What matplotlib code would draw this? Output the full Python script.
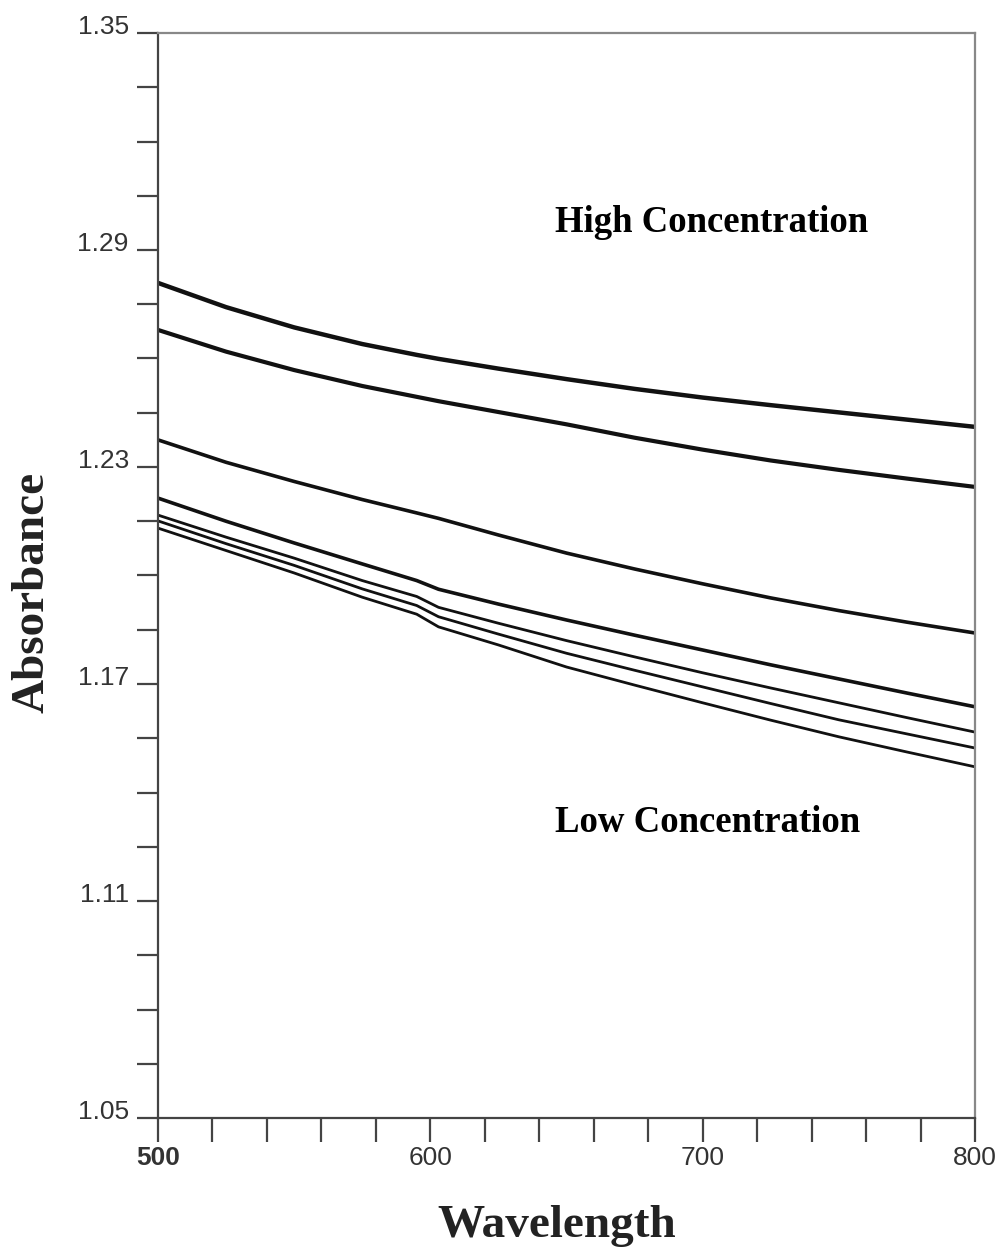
import matplotlib
matplotlib.use("Agg")
import matplotlib.pyplot as plt
from matplotlib.ticker import MultipleLocator, FixedLocator
from matplotlib.transforms import ScaledTranslation

# ---- data ----
wavelength = [500, 525, 550, 575, 595, 603, 625, 650, 675, 700, 725, 750, 775, 800]
conc_1 = [1.2809, 1.2742, 1.2686, 1.2640, 1.2610, 1.2599, 1.2572, 1.2543, 1.2516, 1.2492, 1.2471, 1.2451, 1.2431, 1.2411]
conc_2 = [1.2679, 1.2619, 1.2568, 1.2524, 1.2494, 1.2482, 1.2452, 1.2418, 1.2381, 1.2348, 1.2318, 1.2292, 1.2268, 1.2245]
conc_3 = [1.2375, 1.2313, 1.2260, 1.2210, 1.2173, 1.2158, 1.2112, 1.2062, 1.2018, 1.1977, 1.1938, 1.1903, 1.1871, 1.1841]
conc_4 = [1.2214, 1.2150, 1.2090, 1.2032, 1.1986, 1.1962, 1.1921, 1.1877, 1.1835, 1.1794, 1.1753, 1.1714, 1.1675, 1.1637]
conc_5 = [1.2167, 1.2106, 1.2048, 1.1986, 1.1942, 1.1912, 1.1868, 1.1820, 1.1775, 1.1731, 1.1689, 1.1648, 1.1607, 1.1567]
conc_6 = [1.2151, 1.2088, 1.2028, 1.1963, 1.1917, 1.1886, 1.1838, 1.1785, 1.1738, 1.1692, 1.1646, 1.1601, 1.1562, 1.1523]
conc_7 = [1.2131, 1.2069, 1.2007, 1.1940, 1.1893, 1.1858, 1.1808, 1.1747, 1.1697, 1.1648, 1.1600, 1.1554, 1.1512, 1.1471]
series = [conc_1, conc_2, conc_3, conc_4, conc_5, conc_6, conc_7]
widths = [3.2, 3.0, 2.6, 2.6, 2.0, 2.0, 2.0]

y_ticks = [1.05, 1.11, 1.17, 1.23, 1.29, 1.35]
y_tick_labels = ["1.05", "1.11", "1.17", "1.23", "1.29", "1.35"]
x_ticks = [500, 600, 700, 800]
x_tick_labels = ["500", "600", "700", "800"]

fig = plt.figure(figsize=(10.05, 12.56), dpi=100)
ax = fig.add_axes([158/1005, 1 - 1118/1256, (975-158)/1005, (1118-33)/1256])

for s, lw in zip(series, widths):
    ax.plot(wavelength, s, color="#111111", lw=lw, solid_capstyle="butt",
            solid_joinstyle="round")

ax.set_xlim(500, 800)
ax.set_ylim(1.05, 1.35)

ax.yaxis.set_major_locator(FixedLocator(y_ticks))
ax.yaxis.set_minor_locator(MultipleLocator(0.015))
ax.set_yticklabels(y_tick_labels)
ax.xaxis.set_major_locator(FixedLocator(x_ticks))
ax.xaxis.set_minor_locator(MultipleLocator(20))
ax.set_xticklabels(x_tick_labels)

for lab in ax.get_yticklabels() + ax.get_xticklabels():
    lab.set_fontfamily("Liberation Sans")
    lab.set_fontsize(19)
    lab.set_color("#333333")

ax.tick_params(axis="y", which="both", direction="out", length=15, width=1.6,
               color="#444444", pad=6)
ax.tick_params(axis="x", which="both", direction="out", length=17, width=1.6,
               color="#444444", pad=3)

offset = ScaledTranslation(0, 6/72, fig.dpi_scale_trans)
for lab in ax.get_yticklabels():
    lab.set_transform(lab.get_transform() + offset)
ax.get_xticklabels()[0].set_fontweight("bold")

for side in ["left", "bottom"]:
    ax.spines[side].set_color("#444444")
    ax.spines[side].set_linewidth(1.6)
for side in ["top", "right"]:
    ax.spines[side].set_color("#888888")
    ax.spines[side].set_linewidth(1.6)

fig.text(33/1005, 1 - 592/1256, "Absorbance", rotation=90, ha="center", va="center",
         family="Liberation Serif", fontweight="bold", fontsize=34, color="#222222")
fig.text(557/1005, 1 - 1226/1256, "Wavelength", ha="center", va="center",
         family="Liberation Serif", fontweight="bold", fontsize=34, color="#222222")

fig.text(555/1005, 1 - 232/1256, "High Concentration", ha="left", va="baseline",
         family="Liberation Serif", fontweight="bold", fontsize=26.5, color="black")
fig.text(555/1005, 1 - 832/1256, "Low Concentration", ha="left", va="baseline",
         family="Liberation Serif", fontweight="bold", fontsize=26.5, color="black")

fig.savefig("out.png", dpi=100)
